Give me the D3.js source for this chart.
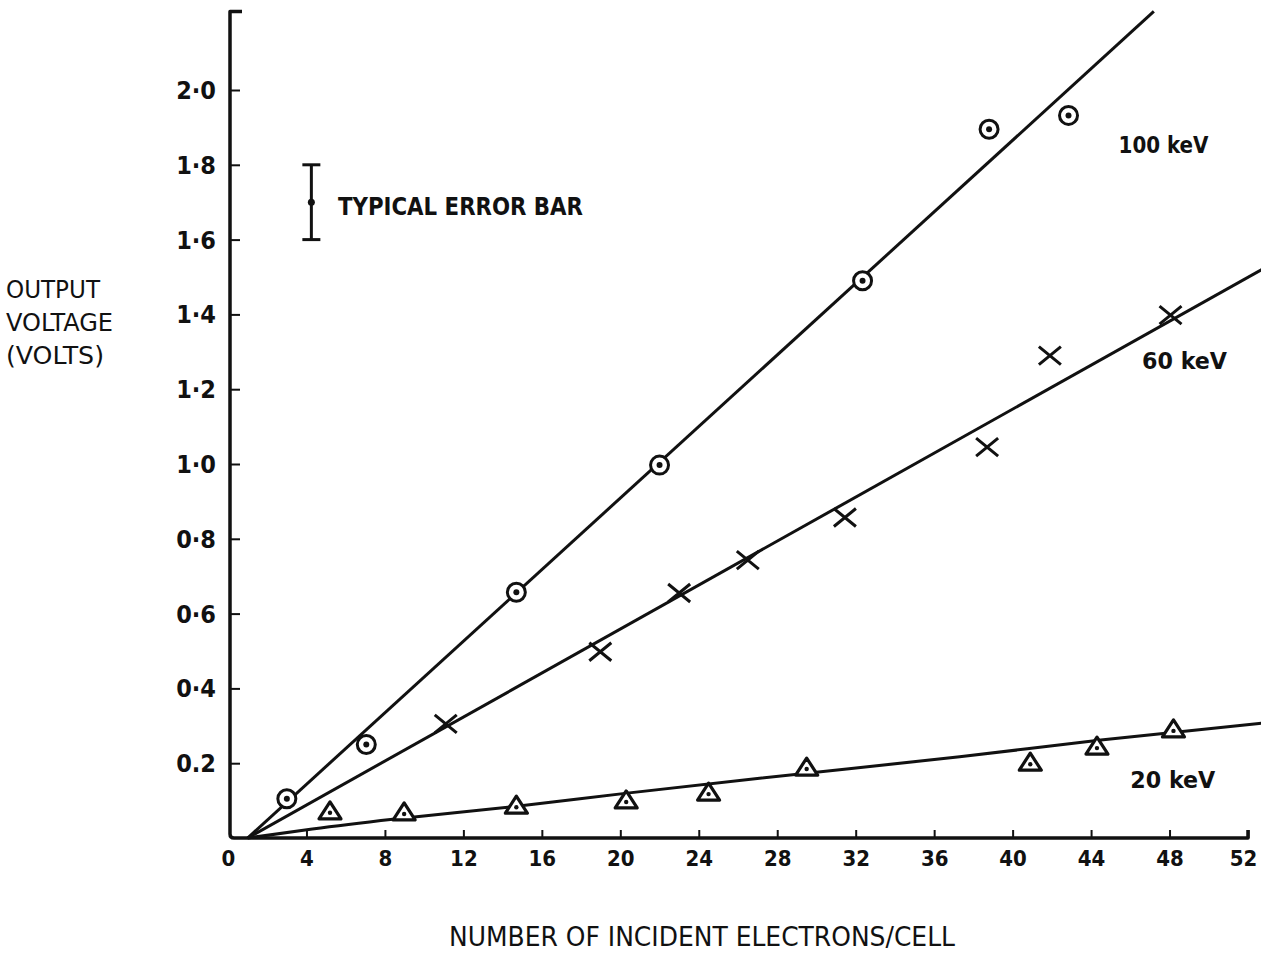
<!DOCTYPE html>
<html><head><meta charset="utf-8">
<script src="https://cdn.jsdelivr.net/npm/d3@7"></script>
<style>
html,body{margin:0;padding:0;background:#fff;}
svg{display:block;}
text{fill:#111;}
</style></head>
<body>
<svg id="chart" width="1261" height="954"></svg>
<script>
// ---- data ----
const xTicks = [0,4,8,12,16,20,24,28,32,36,40,44,48,52];
const yTicks = [0.2,0.4,0.6,0.8,1.0,1.2,1.4,1.6,1.8,2.0];
const yTickLabels = ["0.2","0·4","0·6","0·8","1·0","1·2","1·4","1·6","1·8","2·0"];
const yAxisTop = 2.21;

const x100 = [3.0, 7.05, 14.7, 22.0, 32.35, 38.8, 42.85];
const y100 = [0.105, 0.25, 0.657, 0.997, 1.49, 1.895, 1.932];
const x60 = [11.1, 18.98, 23.0, 26.5, 31.45, 38.7, 41.9, 48.05];
const y60 = [0.305, 0.498, 0.655, 0.743, 0.857, 1.045, 1.29, 1.398];
const x20 = [5.2, 8.98, 14.7, 20.3, 24.5, 29.5, 40.9, 44.3, 48.2];
const y20 = [0.07, 0.067, 0.085, 0.099, 0.12, 0.187, 0.2, 0.243, 0.289];

// fitted lines
const fit100x = [1.0, 47.2], fit100y = [0, 2.21];
const fit60x = [1.0, 52.7], fit60y = [0, 1.52];
const fit20x = [1.0, 4.3, 8.4, 14.4, 20.35, 27.1, 37.3, 44.5, 52.7];
const fit20y = [0, 0.024, 0.05, 0.083, 0.12, 0.16, 0.217, 0.262, 0.307];

const seriesLabels = ["100 keV", "60 keV", "20 keV"];
const seriesLabelX = [45.4, 46.6, 46.0];
const seriesLabelY = [1.855, 1.275, 0.155];

const errorBar = {x:4.25, lo:1.6, hi:1.8, mid:1.7, label:"TYPICAL ERROR BAR"};
const yTitle = ["OUTPUT","VOLTAGE","(VOLTS)"];
const xTitle = "NUMBER OF INCIDENT ELECTRONS/CELL";

// ---- scales ----
const svg = d3.select("#chart");
const x = d3.scaleLinear().domain([0,52]).range([228,1248]);
const y = d3.scaleLinear().domain([0,2.0]).range([838,90]);
const ink = "#111";
const tickFont = "'DejaVu Sans Condensed','DejaVu Sans',sans-serif";

// ---- axes ----
const xAxis = d3.axisBottom(x).tickValues(xTicks).tickSize(-8).tickPadding(12)
  .tickFormat(d3.format("d"));
const gx = svg.append("g").attr("transform","translate(0,838)").call(xAxis);
gx.select(".domain").remove();
gx.selectAll(".tick line").attr("stroke",ink).attr("stroke-width",2);
gx.selectAll(".tick text").attr("font-family",tickFont).attr("font-weight","bold")
  .attr("font-size",22).attr("fill",ink);
gx.selectAll(".tick").filter(d=>d===0).select("line").remove();
gx.selectAll(".tick").filter(d=>d===52).select("text").attr("dx",-5);

const yAxis = d3.axisLeft(y).tickValues(yTicks).tickSize(-10).tickPadding(14)
  .tickFormat((d,i)=>yTickLabels[i]);
const gy = svg.append("g").attr("transform","translate(230,0)").call(yAxis);
gy.select(".domain").remove();
gy.selectAll(".tick line").attr("stroke",ink).attr("stroke-width",2);
gy.selectAll(".tick text").attr("font-family",tickFont).attr("font-weight","bold")
  .attr("font-size",25).attr("fill",ink).attr("dy","0.34em");

// axis lines
svg.append("path")
  .attr("d", `M${x(0)+14},${y(yAxisTop)} L${x(0)+2},${y(yAxisTop)} L${x(0)+2},${y(0)-4} Q${x(0)+2},${y(0)} ${x(0)+6},${y(0)} L${x(52)},${y(0)} L${x(52)},${y(0)-8}`)
  .attr("fill","none").attr("stroke",ink).attr("stroke-width",3.5).attr("stroke-linejoin","round");

// ---- fitted lines ----
const line = d3.line().x(d=>x(d[0])).y(d=>y(d[1]));
const curve = d3.line().x(d=>x(d[0])).y(d=>y(d[1])).curve(d3.curveMonotoneX);
svg.append("path").attr("d", line(d3.zip(fit100x,fit100y)))
  .attr("fill","none").attr("stroke",ink).attr("stroke-width",3);
svg.append("path").attr("d", line(d3.zip(fit60x,fit60y)))
  .attr("fill","none").attr("stroke",ink).attr("stroke-width",3);
svg.append("path").attr("d", curve(d3.zip(fit20x,fit20y)))
  .attr("fill","none").attr("stroke",ink).attr("stroke-width",3);

// ---- markers ----
const g100 = svg.append("g").selectAll("g").data(d3.zip(x100,y100)).join("g")
  .attr("transform",d=>`translate(${x(d[0])},${y(d[1])})`);
g100.append("circle").attr("r",9).attr("fill","#fff").attr("stroke",ink).attr("stroke-width",3);
g100.append("circle").attr("r",3).attr("fill",ink);

const g60 = svg.append("g").selectAll("g").data(d3.zip(x60,y60)).join("g")
  .attr("transform",d=>`translate(${x(d[0])},${y(d[1])})`);
g60.append("path").attr("d","M-11,-9 L11,9 M-11,9 L11,-9")
  .attr("stroke",ink).attr("stroke-width",3).attr("fill","none");

const g20 = svg.append("g").selectAll("g").data(d3.zip(x20,y20)).join("g")
  .attr("transform",d=>`translate(${x(d[0])},${y(d[1])})`);
g20.append("path").attr("d","M0,-10 L11,7 L-11,7 Z")
  .attr("fill","#fff").attr("stroke",ink).attr("stroke-width",3.2).attr("stroke-linejoin","round");
g20.append("circle").attr("cy",1).attr("r",2.2).attr("fill",ink);

// ---- series labels ----
const labelW = [90, 85, 85];
svg.append("g").selectAll("text").data(seriesLabels).join("text")
  .attr("x",(d,i)=>x(seriesLabelX[i])).attr("y",(d,i)=>y(seriesLabelY[i]))
  .attr("dy","0.36em")
  .attr("font-family",tickFont).attr("font-weight","bold").attr("font-size",23)
  .attr("textLength",(d,i)=>labelW[i]).attr("lengthAdjust","spacingAndGlyphs")
  .text(d=>d);

// ---- typical error bar ----
const eb = svg.append("g");
const ex = x(errorBar.x);
eb.append("line").attr("x1",ex).attr("x2",ex).attr("y1",y(errorBar.hi)).attr("y2",y(errorBar.lo))
  .attr("stroke",ink).attr("stroke-width",3);
[errorBar.hi, errorBar.lo].forEach(v=>{
  eb.append("line").attr("x1",ex-9).attr("x2",ex+9).attr("y1",y(v)).attr("y2",y(v))
    .attr("stroke",ink).attr("stroke-width",3);
});
eb.append("circle").attr("cx",ex).attr("cy",y(errorBar.mid)).attr("r",3.5).attr("fill",ink);
eb.append("text").attr("x",338).attr("y",206).attr("dy","0.36em")
  .attr("font-family",tickFont).attr("font-size",24).attr("font-weight","bold")
  .attr("textLength",245).attr("lengthAdjust","spacingAndGlyphs")
  .text(errorBar.label);

// ---- axis titles ----
svg.append("g").selectAll("text").data(yTitle).join("text")
  .attr("x",6).attr("y",(d,i)=>289+i*33).attr("dy","0.36em")
  .attr("font-family",tickFont).attr("font-size",24)
  .attr("textLength",(d,i)=>[94,107,98][i]).attr("lengthAdjust","spacingAndGlyphs")
  .text(d=>d);

svg.append("text").attr("x",449).attr("y",937).attr("dy","0.36em")
  .attr("font-family",tickFont).attr("font-size",26)
  .attr("textLength",506).attr("lengthAdjust","spacingAndGlyphs")
  .text(xTitle);
</script>
</body></html>
